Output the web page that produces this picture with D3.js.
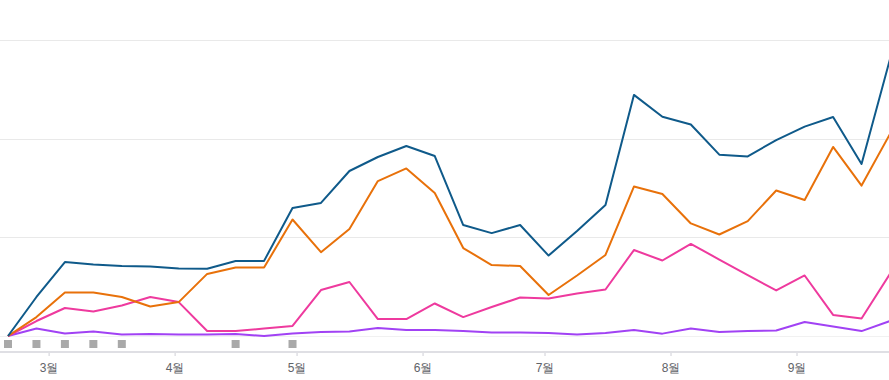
<!DOCTYPE html>
<html>
<head>
<meta charset="utf-8">
<script src="https://cdn.jsdelivr.net/npm/d3@7"></script>
<style>
  body { margin: 0; background: #fff; }
  .canvas svg { display: block; font-family: Roboto, "Noto Sans CJK KR", sans-serif; }
</style>
</head>
<body>
<div class="canvas"></div>
<script>
const
    width = 889,
    height = 380,
    baseY = 336,
    axisY = 352;

// weekly points, starting on 2023-02-19
const startDate = new Date(2023, 1, 19);
const weeks = d3.range(32).map(i => d3.timeWeek.offset(startDate, i));

const seriesBlue = [0, 19.8, 37.5, 36.3, 35.5, 35.3, 34.2, 34.1, 38.0, 38.1, 64.9, 67.5, 83.7, 90.8, 96.4, 91.3,
    56.3, 52.2, 56.3, 40.8, 53.3, 66.5, 122.3, 111.2, 107.3, 92.0, 91.1, 99.4, 106.2, 111.1, 87.3, 140.5];
const seriesOrange = [0, 9.6, 22.1, 22.1, 19.8, 15.0, 17.2, 31.5, 34.7, 34.7, 59.1, 42.5, 54.3, 78.6, 85.0, 72.5,
    44.6, 36.0, 35.5, 20.8, 30.7, 41.1, 75.8, 72.0, 57.1, 51.5, 58.3, 73.8, 69.0, 95.9, 76.3, 102.5];
const seriesPink = [0, 7.6, 14.2, 12.4, 15.5, 19.8, 17.2, 2.5, 2.5, 3.8, 5.1, 23.3, 27.4, 8.6, 8.6, 16.5,
    9.6, 14.7, 19.5, 19.0, 21.6, 23.6, 43.6, 38.3, 46.7, 38.8, 30.9, 23.1, 30.7, 10.7, 8.9, 31.5];
const seriesPurple = [0, 3.8, 1.3, 2.3, 0.8, 1.0, 0.8, 0.8, 1.0, 0, 1.3, 2.0, 2.3, 4.1, 3.0, 3.0,
    2.5, 1.8, 1.8, 1.5, 0.8, 1.5, 3.0, 1.2, 3.8, 2.0, 2.5, 2.8, 7.1, 4.8, 2.5, 7.6];

const gridValues = [0, 50, 100, 150];
const markerWeeks = [0, 1, 2, 3, 4, 8, 10];

const series = [
    { name: "purple", values: seriesPurple, color: "#a142f4" },
    { name: "pink", values: seriesPink, color: "#ee3a9e" },
    { name: "orange", values: seriesOrange, color: "#e8710a" },
    { name: "blue", values: seriesBlue, color: "#0f5a8a" }
];

const svg = d3.select('.canvas').append("svg")
    .attr('width', width)
    .attr('height', height);

const x = d3.scaleTime()
    .domain([weeks[0], weeks[weeks.length - 1]])
    .range([8, 890]);
const y = d3.scaleLinear()
    .domain([0, 150])
    .range([baseY, 40.3]);

// gridlines
svg.append("g").selectAll("line")
    .data(gridValues)
    .enter()
    .append("line")
    .attr("x1", 0)
    .attr("x2", width)
    .attr("y1", d => Math.round(y(d)) + 0.5)
    .attr("y2", d => Math.round(y(d)) + 0.5)
    .attr("stroke", d => d === 0 ? "#f1f1f1" : "#e9e9e9")
    .attr("stroke-width", 1);

// lines
const line = d3.line()
    .x((d, i) => x(weeks[i]))
    .y(d => y(d));

svg.append("g").selectAll("path")
    .data(series)
    .enter()
    .append("path")
    .attr("d", d => line(d.values))
    .attr("fill", "none")
    .attr("stroke", d => d.color)
    .attr("stroke-width", 2)
    .attr("stroke-linejoin", "round");

// annotation markers
svg.append("g").selectAll("rect")
    .data(markerWeeks)
    .enter()
    .append("rect")
    .attr("x", d => x(weeks[d]) - 4)
    .attr("y", 340)
    .attr("width", 8)
    .attr("height", 8)
    .attr("fill", "#a9a9a9");

// x axis
svg.append("line")
    .attr("x1", 0)
    .attr("x2", width)
    .attr("y1", axisY)
    .attr("y2", axisY)
    .attr("stroke", "#dfdfe4")
    .attr("stroke-width", 2);

const xAxis = d3.axisBottom(x)
    .ticks(d3.timeMonth.every(1))
    .tickFormat(d => (d.getMonth() + 1) + "월")
    .tickSize(4);

const gx = svg.append("g")
    .attr("transform", `translate(0,${axisY})`)
    .call(xAxis);

gx.select(".domain").remove();
gx.selectAll(".tick line").attr("stroke", "#dfdfe4").attr("stroke-width", 1.5);
gx.selectAll(".tick text")
    .attr("y", 20)
    .attr("dy", 0)
    .attr("fill", "#5f6368")
    .style("font-size", "12px");
</script>
</body>
</html>
